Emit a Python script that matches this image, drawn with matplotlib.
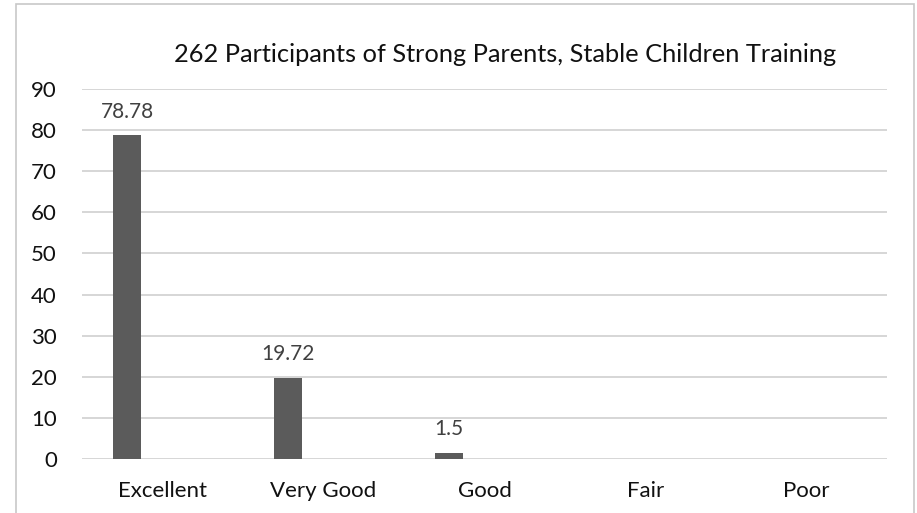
import matplotlib.pyplot as plt
from matplotlib.patches import Rectangle
import numpy as np

categories = ["Excellent", "Very Good", "Good", "Fair", "Poor"]
values = [78.78, 19.72, 1.5, None, None]
title = "262 Participants of Strong Parents, Stable Children Training"

plt.rcParams["font.family"] = ["Lato", "DejaVu Sans"]

W, H = 917, 513
fig = plt.figure(figsize=(W / 100, H / 100), dpi=100)

# outer chart border (bottom edge is cut off in the original)
fig.patches.append(Rectangle((16 / W, -0.1), (914 - 16) / W, 1.1 - 4 / H,
                             transform=fig.transFigure, fill=False,
                             edgecolor="#c8c8c8", linewidth=1.2))

ax = fig.add_axes([82 / W, 1 - 459 / H, (887 - 82) / W, (459 - 89) / H])

x = np.arange(len(categories))
offset = -0.22
bar_w = 0.174
for i, v in enumerate(values):
    if v is None:
        continue
    ax.bar(x[i] + offset, v, width=bar_w, color="#5b5b5b", zorder=3)
    ax.text(x[i] + offset, v + 3.3, f"{v:g}", ha="center", va="bottom",
            fontsize=15, color="#404040")

ax.set_xlim(-0.5, len(categories) - 0.5)
ax.set_ylim(0, 90)
ax.set_yticks(range(0, 91, 10))
ax.set_xticks(x)
ax.set_xticklabels(categories)
ax.tick_params(axis="both", length=0, labelsize=16, colors="#111111")
ax.tick_params(axis="x", pad=16)
ax.tick_params(axis="y", pad=18)
for lbl in ax.get_yticklabels():
    lbl.set_horizontalalignment("right")
ax.grid(axis="y", color="#d0d0d0", linewidth=1.2, zorder=0)
for s in ax.spines.values():
    s.set_visible(False)

fig.text(505 / W, 1 - 55 / H, title, ha="center", va="center",
         fontsize=18.3, color="#111111")

fig.savefig("out.png", dpi=100)
